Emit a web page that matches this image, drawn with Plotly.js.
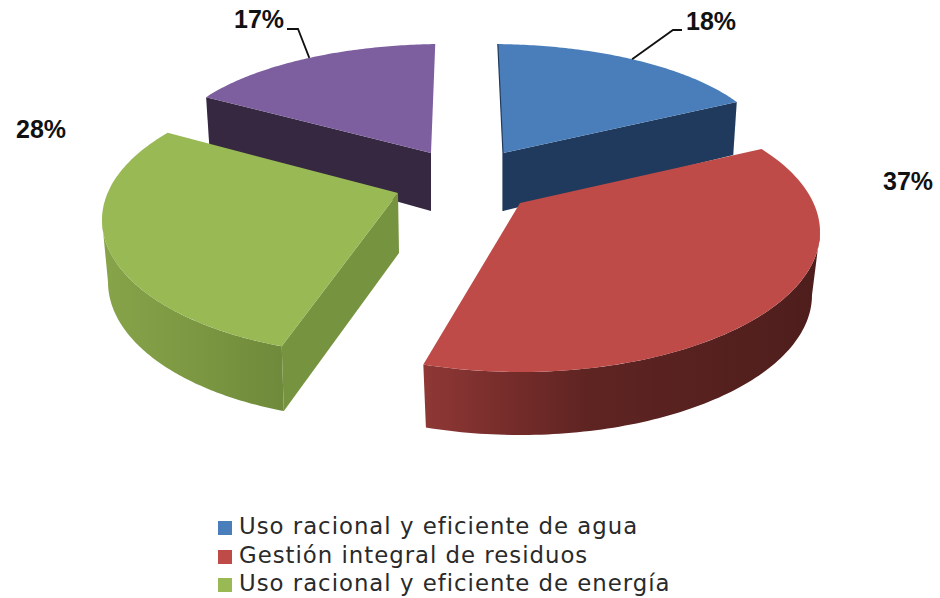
<!DOCTYPE html>
<html>
<head>
<meta charset="utf-8">
<script src="https://cdn.plot.ly/plotly-3.0.1.min.js"></script>
<style>html,body{margin:0;padding:0;background:#fff}#chart{width:940px;height:598px}
#chart .textpoint text{letter-spacing:1px}</style>
</head>
<body>
<div id="chart"></div>
<script>
// ---- data ----
const categories = ["Uso racional y eficiente de agua", "Gestión integral de residuos", "Uso racional y eficiente de energía", ""];
const values = [18, 37, 28, 17];

// ---- styles ----
const topColors = ["#4a7ebb", "#be4b48", "#98b954", "#7d5f9f"];
const cutColors = ["#1f3a5c", null, "#76933f", "#362840"];
const arcGradients = [null, [[0,"#8f3836"],[0.18,"#7a2e2c"],[0.42,"#5e2422"],[1,"#4e1e1c"]], [[0,"#87a44a"],[0.5,"#7c9842"],[1,"#6e8a3b"]], null];

// ---- projection of the tilted, exploded pie (screen pixels: the axes run 0..940 and 598..0) ----
// top / low: ellipse of the upper and lower face, apex / apexLow: tip of the slice,
// warp: small start/end angle correction for perspective, cut: visible cut face, arc: visible rim
const views = [
  {top:[490,154,280,110], low:[490,207,276,110], apex:[503,153], apexLow:[503,211], warp:[1.6,-3],   cut:"end"},
  {top:[520,232,300,140], low:[520,295,292,140], apex:[520,203], apexLow:null,      warp:[-11.2,0.8], arc:[90,null]},
  {top:[380,220,278,135], low:[380,282,272,138], apex:[398,193], apexLow:[399,253], warp:[2.7,11.4], cut:"start", arc:[null,270]},
  {top:[445,154,279,110], low:[445,206,275,110], apex:[431,153], apexLow:[431,211], warp:[2.3,-2],   cut:"start"}
];
const drawOrder = [3, 0, 2, 1];

const rad = Math.PI / 180;
const total = values.reduce((a, b) => a + b, 0);
let running = 0;
const spans = values.map(v => { const s = running; running += v; return [s / total * 360, running / total * 360]; });

function onEllipse(e, phi) {
  return [e[0] + e[2] * Math.sin(phi * rad), e[1] - e[3] * Math.cos(phi * rad)];
}
function arcPoints(e, from, to) {
  const pts = [], n = 90;
  for (let i = 0; i <= n; i++) pts.push(onEllipse(e, from + (to - from) * i / n));
  return pts;
}
function poly(pts, color, gradient) {
  const t = {
    type: "scatter", mode: "none", fill: "toself", hoverinfo: "skip", showlegend: false,
    x: pts.map(p => p[0]), y: pts.map(p => p[1])
  };
  if (gradient) t.fillgradient = {type: "horizontal", colorscale: gradient};
  else t.fillcolor = color;
  return t;
}

const traces = [];
drawOrder.forEach(i => {
  const v = views[i];
  const start = spans[i][0] + v.warp[0];
  const end = spans[i][1] + v.warp[1];
  if (v.arc) {
    const a0 = v.arc[0] === null ? start : v.arc[0];
    const a1 = v.arc[1] === null ? end : v.arc[1];
    traces.push(poly(arcPoints(v.top, a0, a1).concat(arcPoints(v.low, a1, a0)), null, arcGradients[i]));
  }
  if (v.cut) {
    const phi = v.cut === "end" ? end : start;
    traces.push(poly([v.apex, onEllipse(v.top, phi), onEllipse(v.low, phi), v.apexLow], cutColors[i]));
  }
  traces.push(poly([v.apex].concat(arcPoints(v.top, start, end)), topColors[i]));
  if (i === 0) {
    const s = onEllipse(v.top, start);
    traces.push({type: "scatter", mode: "lines", hoverinfo: "skip", showlegend: false,
      x: [s[0], v.apex[0], v.apexLow[0]], y: [s[1], v.apex[1], v.apexLow[1]],
      line: {color: cutColors[0], width: 1.2}});
  }
});

// leader lines: from the rim of the slice to its label
function leader(i, phi, knee, tail) {
  const p = onEllipse(views[i].top, phi);
  traces.push({type: "scatter", mode: "lines", hoverinfo: "skip", showlegend: false,
    x: [p[0], knee[0], tail[0]], y: [p[1], knee[1], tail[1]],
    line: {color: "#111", width: 1.8}});
}
leader(0, 30.5, [673, 30], [682, 30]);
leader(3, 330.9, [298, 29], [287, 29]);

// legend block (the fourth slice has no entry in the reference)
const legendRows = [528, 557, 585];
categories.forEach((c, i) => {
  if (!c) return;
  traces.push({type: "scatter", mode: "markers", name: c, x: [225], y: [legendRows[i]], hoverinfo: "skip",
    showlegend: false, cliponaxis: false,
    marker: {symbol: "square", size: 14, color: topColors[i]}});
  traces.push({type: "scatter", mode: "text", name: c, x: [239], y: [legendRows[i]], hoverinfo: "skip",
    showlegend: false, text: [c], textposition: "middle right", cliponaxis: false,
    textfont: {family: "DejaVu Sans, sans-serif", size: 22.8, color: "#2a2a2a"}});
});

const labelPos = [[711, 21], [908, 181], [41, 129], [259, 19]];
const annotations = values.map((v, i) => ({
  xref: "x", yref: "y", x: labelPos[i][0], y: labelPos[i][1], text: v + "%", showarrow: false,
  xanchor: "center", yanchor: "middle",
  font: {family: "Liberation Sans, Arial, sans-serif", size: 25, color: "#111", weight: 700}
}));

const layout = {
  width: 940, height: 598,
  margin: {l: 0, r: 0, t: 0, b: 0},
  paper_bgcolor: "#fff", plot_bgcolor: "#fff",
  xaxis: {range: [0, 940], visible: false, fixedrange: true},
  yaxis: {range: [598, 0], visible: false, fixedrange: true},
  showlegend: false,
  annotations: annotations
};
Plotly.newPlot("chart", traces, layout, {displayModeBar: false});
</script>
</body>
</html>
